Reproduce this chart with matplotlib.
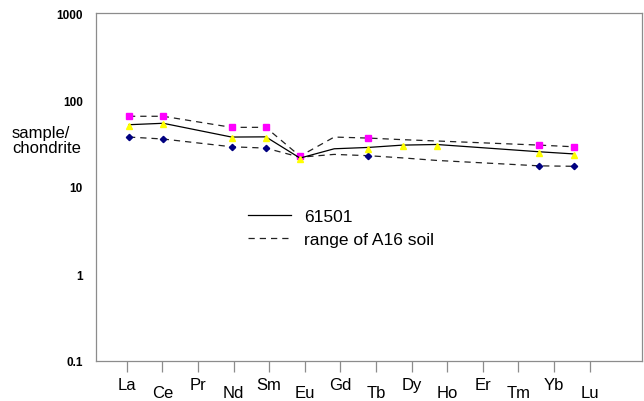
import numpy as np
import matplotlib
matplotlib.use("Agg")
import matplotlib.pyplot as plt

plt.rcParams['font.family'] = ['Liberation Sans', 'DejaVu Sans']

# rare earth elements along the x axis
elements = ['La', 'Ce', 'Pr', 'Nd', 'Sm', 'Eu', 'Gd', 'Tb', 'Dy', 'Ho',
            'Er', 'Tm', 'Yb', 'Lu']
nan = np.nan

# chondrite normalised values
sample_61501 = [52, 54, nan, 37.5, 37.7, 21.5, 27.5, 28.5, 30.3, 30.8,
                nan, nan, 25.4, 24]
a16_upper = [65, 65, nan, 48.5, 48.5, 22.6, 37.5, 36.5, 35.0, 33.8,
             nan, nan, 30.3, 29]
a16_lower = [37.5, 35.6, nan, 29, 28, 22, 23.7, 22.9, 21.6, 20.2,
             nan, nan, 17.5, 17.3]

# which points carry a marker
marks_61501 = [0, 1, 3, 4, 5, 7, 8, 9, 12, 13]
marks_upper = [0, 1, 3, 4, 5, 7, 12, 13]
marks_lower = [0, 1, 3, 4, 5, 7, 12, 13]

yticks = [0.1, 1, 10, 100, 1000]
ytick_labels = ['0.1', '1', '10', '100', '1000']

x = np.arange(len(elements))


def line_through(vals):
    # the lines simply skip the missing elements
    v = np.array(vals, dtype=float)
    ok = ~np.isnan(v)
    return x[ok], v[ok]


fig = plt.figure(figsize=(6.44, 4.02), dpi=100)
ax = fig.add_axes([96 / 644, 40 / 402, 546 / 644, 348 / 402])

gray = '#8c8c8c'

# lower range (blue diamonds)
xs, ys = line_through(a16_lower)
ax.plot(xs, ys, color='#222222', lw=0.9, dashes=(5, 4))
ax.plot(x[marks_lower], np.array(a16_lower)[marks_lower], 'D', ls='none',
        color='#000080', ms=3.2, mec='#000080')

# upper range (magenta squares)
xs, ys = line_through(a16_upper)
ax.plot(xs, ys, color='#222222', lw=0.9, dashes=(5, 4),
        label='range of A16 soil')
ax.plot(x[marks_upper], np.array(a16_upper)[marks_upper], 's', ls='none',
        color='#ff00ff', ms=3.8)

# sample 61501 (yellow triangles)
xs, ys = line_through(sample_61501)
ax.plot(xs, ys, color='black', lw=0.9, label='61501')
ax.plot(x[marks_61501], np.array(sample_61501)[marks_61501] * 0.97, '^',
        ls='none', color='#ffff00', ms=4.2)

ax.set_yscale('log')
ax.set_ylim(0.1, 1000)
ax.set_xlim(-0.965, 15.0)
ax.set_yticks(yticks)
ax.set_yticklabels(ytick_labels, fontsize=8.5, fontweight='bold')
ax.yaxis.set_minor_locator(matplotlib.ticker.NullLocator())
ax.tick_params(axis='y', length=0, pad=9.5)

# category ticks are spaced a little wider than the plotted points
tick_pos = -0.067 + 1.041 * x
ax.set_xticks(tick_pos)
ax.set_xticklabels(elements, fontsize=12)
ax.tick_params(axis='x', direction='out', length=7.7, width=0.9,
               color=gray, pad=3.5)
for i, t in enumerate(ax.xaxis.get_major_ticks()):
    if i % 2 == 1:
        t.set_pad(9.5)

for s in ax.spines.values():
    s.set_color(gray)
    s.set_linewidth(0.9)

fig.text(12 / 644, 1 - 141 / 402, 'sample/\nchondrite', fontsize=12,
         ha='left', va='center', linespacing=1.0)

handles, labels = ax.get_legend_handles_labels()
ax.legend(handles[::-1], labels[::-1], loc='upper left',
          bbox_to_anchor=(248 / 644, 1 - 210 / 402),
          bbox_transform=fig.transFigure, frameon=False, fontsize=12.5,
          handlelength=2.5, handletextpad=0.75, labelspacing=0.45,
          borderpad=0, borderaxespad=0)

fig.savefig('out.png', dpi=100)
